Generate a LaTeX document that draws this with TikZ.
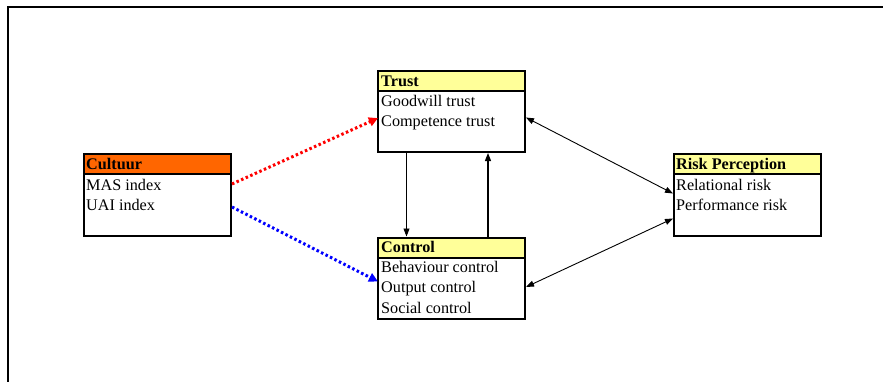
\documentclass[tikz,border=0pt]{standalone}
\usepackage{fontspec}
\setmainfont{Liberation Serif}
\usetikzlibrary{arrows.meta}
\definecolor{titleyellow}{HTML}{FFFF99}
\definecolor{titleorange}{HTML}{FF6600}
\definecolor{dotred}{HTML}{FF0000}
\definecolor{dotblue}{HTML}{0000FF}
\tikzset{
  boxbody/.style={draw, line width=2pt, fill=white, anchor=north west, minimum width=147pt, inner sep=0pt},
  boxtitle/.style={draw, line width=2pt, anchor=north west, minimum width=147pt, minimum height=20pt, inner sep=0pt},
  txt/.style={anchor=base west, inner sep=0pt, font=\fontsize{16.2pt}{20pt}\selectfont},
  ttl/.style={txt, font=\fontsize{16.2pt}{20pt}\selectfont\bfseries},
  dotarrow/.style={line width=3pt, dash pattern=on 2.5pt off 2.5pt, -{Triangle[length=9pt,width=9pt]}, shorten >=-1pt},
  blackarrow/.style={line width=0.9pt, -{Triangle[length=8pt,width=6pt]}},
  dblarrow/.style={line width=0.9pt, {Triangle[length=8pt,width=6pt]}-{Triangle[length=8pt,width=6pt]}}
}
\begin{document}
\begin{tikzpicture}[x=1pt,y=-1pt]
\useasboundingbox (0,0) rectangle (883,381);
\fill[white] (0,0) rectangle (883,381);
% outer frame (cropped)
\draw[line width=2pt] (8,390) -- (8,7) -- (890,7);

% Cultuur
\node[boxbody, minimum height=82pt] (cultuur) at (83,153) {};
\node[boxtitle, fill=titleorange] (cultuurT) at (83,153) {};
\node[ttl] (cultuurL) at (86,169.5) {Cultuur};
\node[txt] (cultuur1) at (86,190) {MAS index};
\node[txt] (cultuur2) at (86,210.5) {UAI index};

% Trust
\node[boxbody, minimum height=81pt] (trust) at (377,70) {};
\node[boxtitle, fill=titleyellow] (trustT) at (377,70) {};
\node[ttl] (trustL) at (381,86) {Trust};
\node[txt] (trust1) at (381,106.5) {Goodwill trust};
\node[txt] (trust2) at (381,126.5) {Competence trust};

% Control
\node[boxbody, minimum height=81pt] (control) at (377,236.5) {};
\node[boxtitle, fill=titleyellow] (controlT) at (377,236.5) {};
\node[ttl] (controlL) at (381,252) {Control};
\node[txt] (control1) at (381,272) {Behaviour control};
\node[txt] (control2) at (381,292) {Output control};
\node[txt] (control3) at (381,313) {Social control};

% Risk Perception
\node[boxbody, minimum height=82pt] (risk) at (673,153) {};
\node[boxtitle, fill=titleyellow] (riskT) at (673,153) {};
\node[ttl] (riskL) at (676,169.5) {Risk Perception};
\node[txt] (risk1) at (676,190) {Relational risk};
\node[txt] (risk2) at (676,210.5) {Performance risk};

% connectors
\draw[dotarrow, dotred] ([yshift=11pt]cultuur.east) -- ([yshift=-7pt]trust.west);
\draw[dotarrow, dotblue] ([yshift=-12pt]cultuur.east) -- ([yshift=-3pt]control.west);
\draw[blackarrow] ([xshift=29.5pt]trust.south west) -- ([xshift=29.5pt]control.north west);
\draw[blackarrow, line width=1.3pt] ([xshift=111pt]control.north west) -- ([xshift=111pt]trust.south west);
\draw[dblarrow] ([yshift=-6pt]trust.east) -- ([yshift=1.5pt]risk.west);
\draw[dblarrow] ([yshift=-9pt]control.east) -- ([yshift=-23.5pt]risk.west);
\end{tikzpicture}
\end{document}
